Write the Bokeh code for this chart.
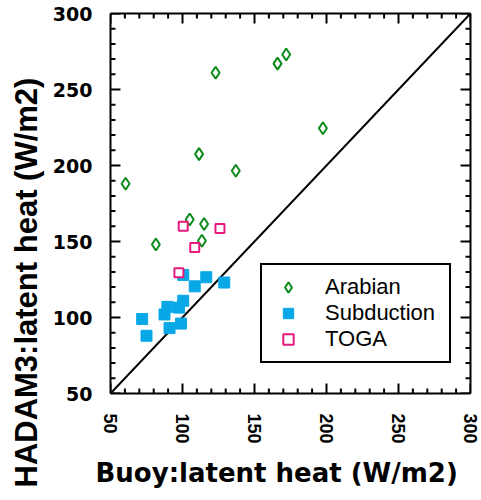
from bokeh.plotting import figure
from bokeh.models import (LinearAxis, FixedTicker, Legend, LegendItem, Title,
                          Range1d, CustomLabelingPolicy)
from bokeh.embed import file_html
from bokeh.resources import INLINE

# Latent heat flux: model (HADAM3) against buoy observations, W/m2
arabian_x = [60.5, 123, 111.5, 137, 166, 172, 197.5, 81.5, 105, 115, 113.5]
arabian_y = [188, 261, 207.5, 196.5, 267, 273, 224.5, 148, 164.5, 161.5, 150.5]

subduction_x = [100.5, 116.5, 108.5, 129, 100.5, 89.5, 97.5, 87.5, 72, 99, 91, 75]
subduction_y = [128, 126.5, 120.5, 123, 111, 107, 106.5, 102, 99, 96, 93, 88]

toga_x = [100.5, 126, 108.5, 97.5]
toga_y = [160, 158.5, 146, 129.5]

# one-to-one reference line
diag = [50, 300]

major_ticks = [50, 100, 150, 200, 250, 300]
minor_ticks = [t for t in range(50, 301, 10) if t not in major_ticks]

GREEN = "#0a8a1a"
BLUE = "#08a8e6"
PINK = "#e6197f"

W, H = 481, 500
LEFT, RIGHT, TOP, BOTTOM = 109, 11, 13, 107
LO, HI = 50, 300

p = figure(width=W, height=H, output_backend="svg", toolbar_location=None,
           x_range=Range1d(LO, HI), y_range=Range1d(LO, HI),
           min_border_left=LEFT, min_border_right=RIGHT,
           min_border_top=TOP, min_border_bottom=BOTTOM)
p.title.visible = False
p.xgrid.visible = False
p.ygrid.visible = False
p.outline_line_color = None
p.background_fill_color = "white"
p.border_fill_color = "white"

# inward tick marks on all four sides (lengths in pixels -> data units)
kx = (HI - LO) / (W - LEFT - RIGHT)
ky = (HI - LO) / (H - TOP - BOTTOM)


def draw_ticks(ticks, length):
    n = len(ticks)
    lo, hi = [LO] * n, [HI] * n
    p.segment(x0=ticks, y0=lo, x1=ticks, y1=[LO + length * ky] * n,
              line_color="black", line_width=2)
    p.segment(x0=ticks, y0=hi, x1=ticks, y1=[HI - length * ky] * n,
              line_color="black", line_width=2)
    p.segment(x0=lo, y0=ticks, x1=[LO + length * kx] * n, y1=ticks,
              line_color="black", line_width=2)
    p.segment(x0=hi, y0=ticks, x1=[HI - length * kx] * n, y1=ticks,
              line_color="black", line_width=2)


draw_ticks(major_ticks, 10)
draw_ticks(minor_ticks, 5)

p.line(diag, diag, line_color="black", line_width=2)

r_arab = p.scatter(arabian_x, arabian_y, marker="diamond", size=12,
                   line_color=GREEN, line_width=2, fill_color="white")
r_sub = p.scatter(subduction_x, subduction_y, marker="square", size=11,
                  line_color=BLUE, line_width=1, fill_color=BLUE)
r_toga = p.scatter(toga_x, toga_y, marker="square", size=9,
                   line_color=PINK, line_width=2, fill_color="white")


def style_axis(ax, show_labels):
    ax.ticker = FixedTicker(ticks=major_ticks, minor_ticks=minor_ticks)
    ax.axis_line_width = 2
    ax.axis_line_color = "black"
    ax.major_tick_in = 0
    ax.major_tick_out = 0
    ax.minor_tick_in = 0
    ax.minor_tick_out = 0
    if not show_labels:
        ax.major_label_standoff = 0
        ax.major_label_text_font_size = "0px"
        ax.major_label_policy = CustomLabelingPolicy(
            code="for (const i of indices) indices.unset(i); return indices")


xaxis = p.xaxis[0]
yaxis = p.yaxis[0]
style_axis(xaxis, True)
style_axis(yaxis, True)

xaxis.major_label_orientation = "vertical"
xaxis.major_label_text_font = "Liberation Sans"
xaxis.major_label_text_font_style = "bold"
xaxis.major_label_text_font_size = "18px"
xaxis.major_label_text_color = "black"
xaxis.major_label_standoff = 20

yaxis.major_label_text_font = "DejaVu Sans"
yaxis.major_label_text_font_style = "bold"
yaxis.major_label_text_font_size = "19px"
yaxis.major_label_text_color = "black"
yaxis.major_label_standoff = 18
yaxis.major_label_text_baseline = "top"

top_axis = LinearAxis()
right_axis = LinearAxis()
style_axis(top_axis, False)
style_axis(right_axis, False)
p.add_layout(top_axis, "above")
p.add_layout(right_axis, "right")

ytitle = Title(text="HADAM3:latent heat (W/m2)", align="left", offset=-94,
               text_font="Liberation Sans", text_font_style="bold",
               text_font_size="31px", text_color="black", standoff=12)
p.add_layout(ytitle, "left")

xtitle = Title(text="Buoy:latent heat (W/m2)", align="left", offset=-15,
               text_font="DejaVu Sans", text_font_style="bold",
               text_font_size="26px", text_color="black", standoff=18)
p.add_layout(xtitle, "below")

legend = Legend(items=[LegendItem(label="Arabian", renderers=[r_arab]),
                       LegendItem(label="Subduction", renderers=[r_sub]),
                       LegendItem(label="TOGA", renderers=[r_toga])],
                location=(150, 30), orientation="vertical",
                padding=9, spacing=0, margin=0,
                glyph_width=34, glyph_height=26, label_standoff=20,
                label_width=115, label_height=20,
                label_text_font="Liberation Sans", label_text_font_size="22px",
                label_text_color="black",
                border_line_color="black", border_line_width=2,
                border_line_alpha=1,
                background_fill_color="white", background_fill_alpha=1)
p.add_layout(legend, "center")

open("out.html", "w").write(file_html(p, INLINE))
